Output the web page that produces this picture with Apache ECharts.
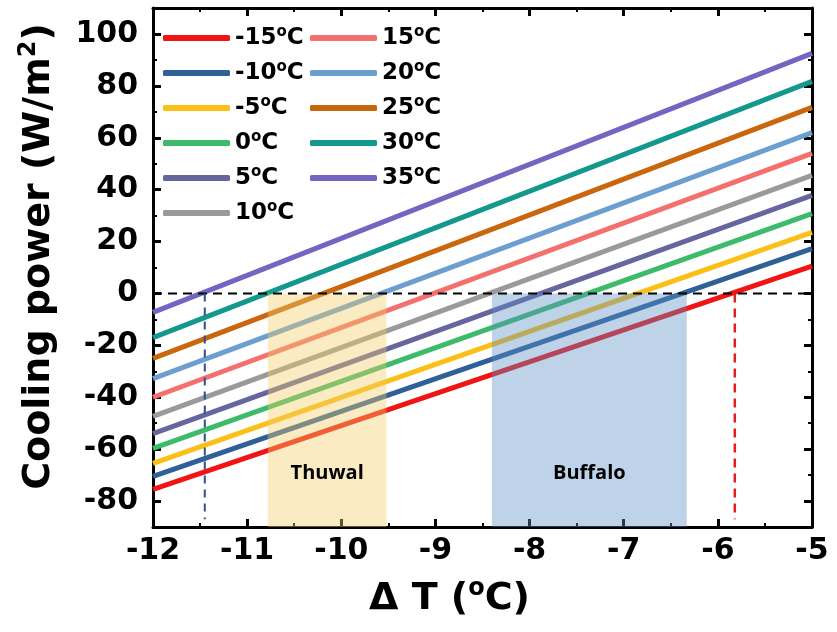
<!DOCTYPE html>
<html><head><meta charset="utf-8">
<script src="https://cdn.jsdelivr.net/npm/echarts@6/dist/echarts.min.js"></script>
<style>html,body{margin:0;padding:0;background:#fff}#c{width:837px;height:632px}</style>
</head><body><div id="c"></div>
<script>
// ---- data ----
const temps = ['-15°C','-10°C','-5°C','0°C','5°C','10°C','15°C','20°C','25°C','30°C','35°C'];
const xEnds = [-12, -5];
const powerAtLeft  = [-75.5, -70.5, -65.5, -59.7, -54.0, -47.4, -40.0, -32.8, -25.0, -17.0, -7.3];
const powerAtRight = [ 10.5,  17.3,  23.5,  30.8,  37.8,  45.5,  54.0,  62.0,  71.7,  81.7, 92.5];
const zeroLine = [[-12, 0], [-5, 0]];
const blueDrop = [[-11.45, 0], [-11.45, -87]];
const redDrop  = [[-5.82, 0], [-5.82, -87]];
const thuwalRange  = [-10.78, -9.52];
const buffaloRange = [-8.40, -6.33];
const yTickLabels = [-80, -60, -40, -20, 0, 20, 40, 60, 80, 100];
const xTickLabels = [-12, -11, -10, -9, -8, -7, -6, -5];

// ---- styles ----
const colors = ['#f01414','#2f6098','#fbbf16','#3dba6a','#67659e','#9a9a9a',
                '#f4706f','#6c9ed0','#c9660e','#12988c','#7167c2'];
const F = 'DejaVu Sans';
const supRich = (fs, lh) => ({ s: { fontFamily: F, fontWeight: 'bold', fontSize: fs, lineHeight: lh, verticalAlign: 'top', color: '#000' } });

const lineSeries = temps.map((t, i) => ({
  name: t, type: 'line', symbol: 'none', z: 2,
  data: [[xEnds[0], powerAtLeft[i]], [xEnds[1], powerAtRight[i]]],
  lineStyle: { width: 5, color: colors[i] },
  itemStyle: { color: colors[i] }
}));

const legendBase = {
  orient: 'vertical', top: 25, padding: 0, itemWidth: 67, itemHeight: 6, itemGap: 9,
  icon: 'roundRect', selectedMode: false,
  formatter: n => n.replace('°C', '{s|o}C'),
  textStyle: { fontFamily: F, fontWeight: 'bold', fontSize: 23, lineHeight: 26, color: '#000', rich: supRich(15, 15) }
};

const frameLine = { show: true, onZero: false, lineStyle: { color: '#000', width: 3 } };
const noLine = { show: false, onZero: false };

const option = {
  animation: false,
  backgroundColor: '#fff',
  grid: { left: 153, right: 25, top: 8, bottom: 105, containLabel: false, outerBoundsMode: 'none' },
  legend: [
    Object.assign({}, legendBase, { left: 163, data: temps.slice(0, 6) }),
    Object.assign({}, legendBase, { left: 310, data: temps.slice(6) })
  ],
  xAxis: [
    { type: 'value', position: 'bottom', min: xTickLabels[0], max: xTickLabels[xTickLabels.length-1], interval: 1,
      axisLine: frameLine,
      axisTick: { inside: true, length: 8, lineStyle: { width: 3, color: '#000' } },
      axisLabel: { fontFamily: F, fontWeight: 'bold', fontSize: 30, color: '#000', margin: 9, showMinLabel: true, showMaxLabel: true },
      splitLine: { show: false },
      name: 'Δ T ({s|o}C)', nameLocation: 'middle', nameGap: 50,
      nameTextStyle: { fontFamily: F, fontWeight: 'bold', fontSize: 38, lineHeight: 44, color: '#000', padding: [0, 66, 0, 0], rich: supRich(24, 24) } },
    { type: 'value', position: 'bottom', min: -12, max: -5, interval: 0.5, axisLine: noLine,
      axisTick: { inside: true, length: 4, lineStyle: { width: 2, color: '#000' } },
      axisLabel: { show: false }, splitLine: { show: false } },
    { type: 'value', position: 'top', min: -12, max: -5, interval: 1, axisLine: frameLine,
      axisTick: { inside: true, length: 8, lineStyle: { width: 3, color: '#000' } },
      axisLabel: { show: false }, splitLine: { show: false } },
    { type: 'value', position: 'top', min: -12, max: -5, interval: 0.5, axisLine: noLine,
      axisTick: { inside: true, length: 4, lineStyle: { width: 2, color: '#000' } },
      axisLabel: { show: false }, splitLine: { show: false } }
  ],
  yAxis: [
    { type: 'value', position: 'left', min: -90, max: 110, axisLine: frameLine,
      axisTick: { inside: true, length: 8, customValues: yTickLabels, lineStyle: { width: 3, color: '#000' } },
      axisLabel: { customValues: yTickLabels, fontFamily: F, fontWeight: 'bold', fontSize: 30, color: '#000', margin: 15 },
      splitLine: { show: false },
      name: 'Cooling power (W/m{s|2})', nameLocation: 'middle', nameGap: 92, nameRotate: 90,
      nameTextStyle: { fontFamily: F, fontWeight: 'bold', fontSize: 38, lineHeight: 44, color: '#000', padding: [0, 0, 0, 22], rich: supRich(24, 24) } },
    { type: 'value', position: 'left', min: -90, max: 110, interval: 10, axisLine: noLine,
      axisTick: { inside: true, length: 4, lineStyle: { width: 2, color: '#000' } },
      axisLabel: { show: false }, splitLine: { show: false } },
    { type: 'value', position: 'right', min: -90, max: 110, axisLine: frameLine,
      axisTick: { inside: true, length: 8, customValues: yTickLabels, lineStyle: { width: 3, color: '#000' } },
      axisLabel: { show: false }, splitLine: { show: false } },
    { type: 'value', position: 'right', min: -90, max: 110, interval: 10, axisLine: noLine,
      axisTick: { inside: true, length: 4, lineStyle: { width: 2, color: '#000' } },
      axisLabel: { show: false }, splitLine: { show: false } }
  ],
  series: lineSeries.concat([
    { name: 'zero', type: 'line', symbol: 'none', z: 4, data: zeroLine,
      lineStyle: { color: '#000', width: 2, type: [9, 6] },
      markArea: { silent: true, z: 3,
        label: { show: true, position: ['50%', '77%'], align: 'center', verticalAlign: 'middle',
                 fontFamily: 'Open Sans', fontWeight: 'bold', fontSize: 20, color: '#000' },
        data: [
          [{ name: 'Thuwal', xAxis: thuwalRange[0], yAxis: 0, itemStyle: { color: 'rgba(242,205,105,0.4)' } },
           { xAxis: thuwalRange[1], yAxis: -90 }],
          [{ name: 'Buffalo', xAxis: buffaloRange[0], yAxis: 0, itemStyle: { color: 'rgba(93,143,198,0.4)' } },
           { xAxis: buffaloRange[1], yAxis: -90 }]
        ] } },
    { name: 'blueDrop', type: 'line', symbol: 'none', z: 4, data: blueDrop,
      lineStyle: { color: '#2f4f8f', width: 2, type: [8, 6] } },
    { name: 'redDrop', type: 'line', symbol: 'none', z: 4, data: redDrop,
      lineStyle: { color: '#e02020', width: 2.5, type: [9, 6] } }
  ])
};

const chart = echarts.init(document.getElementById('c'), null, { renderer: 'canvas' });
chart.setOption(option);
</script>
</body></html>
